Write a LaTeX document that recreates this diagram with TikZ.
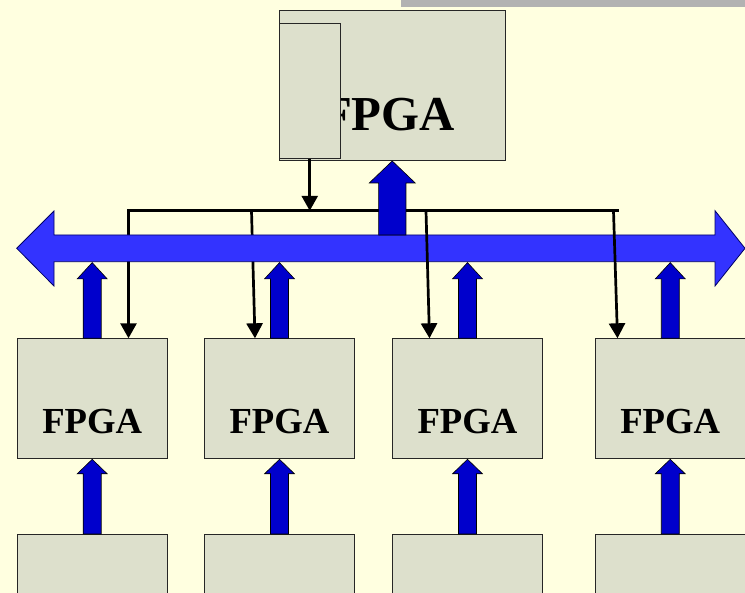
\documentclass[tikz,border=0pt]{standalone}
\usepackage{fontspec}
\setmainfont{Liberation Serif}
\usetikzlibrary{arrows.meta,calc}
\definecolor{bgc}{RGB}{255,255,224}
\definecolor{boxc}{RGB}{221,224,204}
\definecolor{grayc}{RGB}{178,178,178}
\definecolor{busc}{RGB}{51,51,255}
\definecolor{darkblue}{RGB}{0,0,204}
\tikzset{
  fbox/.style={draw=black!85, line width=1pt, fill=boxc, minimum width=150pt, minimum height=120pt, inner sep=0pt, anchor=north west},
  sig/.style={line width=2.7pt, black, -{Triangle[width=16pt,length=15pt]}},
  blk/.style={draw=black, line width=0.6pt, fill=darkblue},
  buss/.style={draw=black!60!blue, line width=0.8pt, fill=busc},
  lab/.style={font=\fontsize{36.7}{40}\selectfont\bfseries, anchor=base, inner sep=0pt},
  biglab/.style={font=\fontsize{48.8}{52}\selectfont\bfseries, anchor=base, inner sep=0pt}
}
% #1 base, #2 tip, #3 half shaft, #4 half head, #5 head length
\newcommand\blockup[5]{%
  \path[blk] let \p1=#1, \p2=#2 in
    (\x1-#3,\y1) -- (\x1-#3,\y2-#5) -- (\x1-#4,\y2-#5) -- (\x1,\y2)
    -- (\x1+#4,\y2-#5) -- (\x1+#3,\y2-#5) -- (\x1+#3,\y1) -- cycle;}
\begin{document}
\begin{tikzpicture}[x=1pt,y=-1pt]
\useasboundingbox (0,0) rectangle (745,593);
\clip (0,0) rectangle (745,593);
\fill[bgc] (0,0) rectangle (745,593);
\fill[grayc] (401,0) rectangle (745,6.7);

% top FPGA
\node[fbox, minimum width=225.5pt, minimum height=149.5pt] (top) at (279,10.5) {};
\node[biglab] (toplab) at (388.5,130.7) {FPGA};
\node[fbox, minimum width=60.5pt, minimum height=135pt] (inner) at (279,23) {};

% FPGA row
\node[fbox] (f1) at (16.7,338.3) {};
\node[fbox] (f2) at (204,338.3) {};
\node[fbox] (f3) at (392,338.3) {};
\node[fbox, minimum width=149.5pt] (f4) at (595,338.3) {};
\node[lab] (l1) at (f1.center |- 0,433.3) {FPGA};
\node[lab] (l2) at (f2.center |- 0,433.3) {FPGA};
\node[lab] (l3) at (f3.center |- 0,433.3) {FPGA};
\node[lab] (l4) at (f4.center |- 0,433.3) {FPGA};

% bottom row (cut off)
\node[fbox, minimum height=90pt] (b1) at (16.7,534) {};
\node[fbox, minimum height=90pt] (b2) at (204,534) {};
\node[fbox, minimum height=90pt] (b3) at (392,534) {};
\node[fbox, minimum height=90pt, minimum width=149.5pt] (b4) at (595,534) {};

% control lines
\coordinate (hl) at (128.5,210.8);
\coordinate (hr) at (618,210.8);
\coordinate (t2) at (251.5,210.8);
\coordinate (t3) at (426,210.8);
\coordinate (t4) at (613.5,210.8);
\draw[sig] (hl) -- ([xshift=111.8pt]f1.north west);
\draw[sig] (t2) -- ([xshift=51pt]f2.north west);

% bus
\coordinate (busT) at (0,235);
\coordinate (busB) at (0,262.6);
\path[buss] (16.7,248.3) -- (54,211) -- (54,235) -- (715,235) -- (715,210.7)
  -- (745,248.3) -- (715,286) -- (715,261.7) -- (54,261.7) -- (54,286) -- cycle;

\draw[sig] (t3) -- ([xshift=37.5pt]f3.north west);
\draw[sig] (t4) -- ([xshift=22.5pt]f4.north west);
\draw[line width=2.7pt, line cap=rect] (hl) -- (hr);
\draw[sig] (inner.south) -- (inner.south |- hl);

% block arrows
\blockup{(top.south |- busT)}{(top.south)}{13.7pt}{23pt}{22pt}
\foreach \i in {1,2,3,4}{
  \blockup{(f\i.north)}{(f\i.north |- busB)}{9pt}{15pt}{16.3pt}
  \blockup{(b\i.north)}{(f\i.south)}{9pt}{15pt}{14.5pt}
}
\end{tikzpicture}
\end{document}
